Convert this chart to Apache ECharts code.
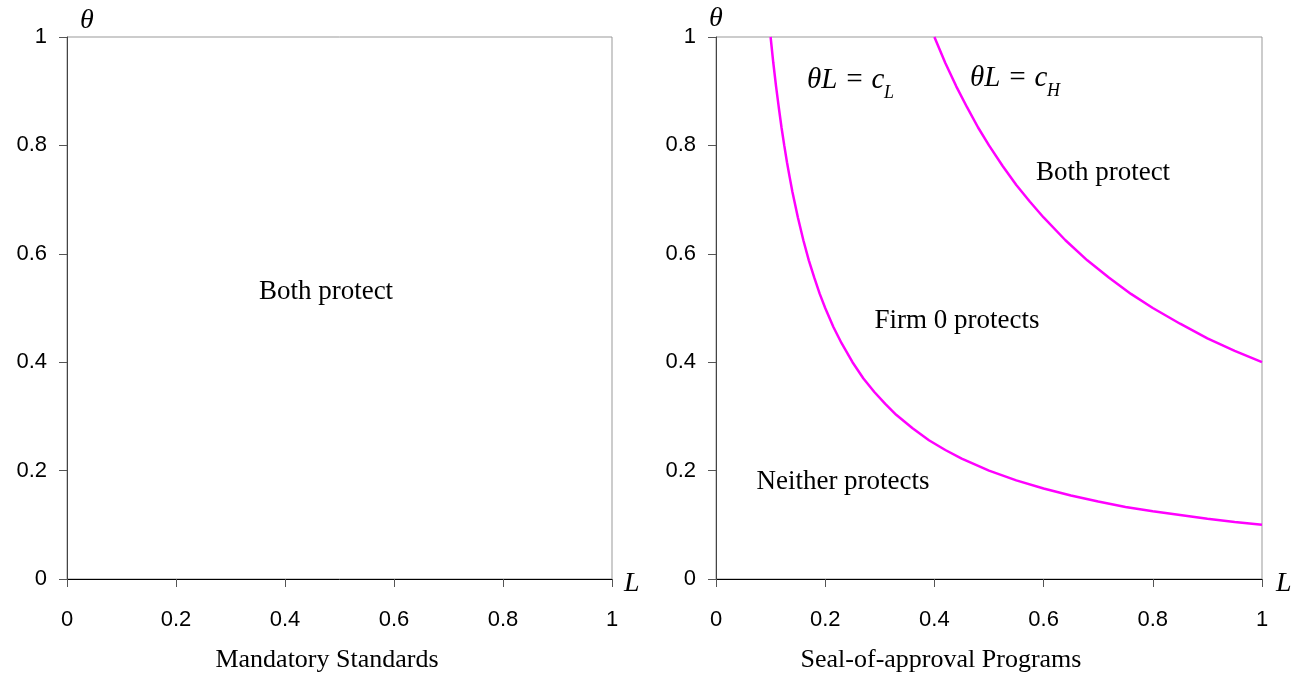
<!DOCTYPE html>
<html>
<head>
<meta charset="utf-8">
<script src="https://cdn.jsdelivr.net/npm/echarts@6/dist/echarts.min.js"></script>
<style>html,body{margin:0;padding:0;background:#fff}#c{width:1308px;height:676px}</style>
</head>
<body>
<div id="c"></div>
<script>
// Tick labels
var xTicks = [0, 0.2, 0.4, 0.6, 0.8, 1];
var yTicks = [0, 0.2, 0.4, 0.6, 0.8, 1];
// Curve theta*L = c_L
var curveLowL     = [0.100, 0.105, 0.110, 0.115, 0.120, 0.125, 0.130, 0.135, 0.140, 0.150, 0.160, 0.170, 0.180, 0.190, 0.200, 0.215, 0.230, 0.250, 0.270, 0.290, 0.310, 0.330, 0.360, 0.390, 0.420, 0.450, 0.500, 0.550, 0.600, 0.650, 0.700, 0.750, 0.800, 0.850, 0.900, 0.950, 1.000];
var curveLowTheta = [1.000, 0.952, 0.909, 0.870, 0.833, 0.800, 0.769, 0.741, 0.714, 0.667, 0.625, 0.588, 0.556, 0.526, 0.500, 0.465, 0.435, 0.400, 0.370, 0.345, 0.323, 0.303, 0.278, 0.256, 0.238, 0.222, 0.200, 0.182, 0.167, 0.154, 0.143, 0.133, 0.125, 0.118, 0.111, 0.105, 0.100];
// Curve theta*L = c_H
var curveHighL     = [0.400, 0.420, 0.440, 0.460, 0.480, 0.500, 0.525, 0.550, 0.575, 0.600, 0.640, 0.680, 0.720, 0.760, 0.800, 0.850, 0.900, 0.950, 1.000];
var curveHighTheta = [1.000, 0.952, 0.909, 0.870, 0.833, 0.800, 0.762, 0.727, 0.696, 0.667, 0.625, 0.588, 0.556, 0.526, 0.500, 0.471, 0.444, 0.421, 0.400];

function pairs(xs, ys){ return xs.map(function(x,i){return [x, ys[i]];}); }

var serif = '"Liberation Serif","Times New Roman",serif';
var sans = '"Liberation Sans",Arial,sans-serif';

function xAx(idx){
  return {
    type:'value', gridIndex:idx, min:0, max:1, interval:0.2,
    axisLine:{show:true, onZero:false, lineStyle:{color:'#000', width:1}},
    axisTick:{show:true, length:8, lineStyle:{color:'#555'}},
    axisLabel:{color:'#000', fontFamily:sans, fontSize:22, margin:30,
      formatter:function(v){return String(+v.toFixed(1));}},
    splitLine:{show:false}
  };
}
function yAx(idx){
  return {
    type:'value', gridIndex:idx, min:0, max:1, interval:0.2,
    axisLine:{show:true, onZero:false, lineStyle:{color:'#444', width:1}},
    axisTick:{show:true, length:8, lineStyle:{color:'#555'}},
    axisLabel:{color:'#000', fontFamily:sans, fontSize:22, margin:20,
      formatter:function(v){return String(+v.toFixed(1));}},
    splitLine:{show:false}
  };
}

function txt(x, y, s, opt){
  opt = opt || {};
  return {type:'text', x:x, y:y, style:{text:s, fill:'#000',
    font:(opt.italic?'italic ':'') + (opt.size||26) + 'px ' + serif,
    textAlign:opt.align||'left', textVerticalAlign:'middle'}};
}

var chart = echarts.init(document.getElementById('c'));
chart.setOption({
  animation:false,
  grid:[
    {left:67, top:37, width:545, height:542, show:true, borderColor:'#999', borderWidth:1},
    {left:716, top:37, width:546, height:542, show:true, borderColor:'#999', borderWidth:1}
  ],
  xAxis:[xAx(0), xAx(1)],
  yAxis:[yAx(0), yAx(1)],
  series:[
    {type:'line', xAxisIndex:1, yAxisIndex:1, data:pairs(curveLowL, curveLowTheta),
      smooth:false, showSymbol:false, lineStyle:{color:'#ff00ff', width:2.5}},
    {type:'line', xAxisIndex:1, yAxisIndex:1, data:pairs(curveHighL, curveHighTheta),
      smooth:false, showSymbol:false, lineStyle:{color:'#ff00ff', width:2.5}}
  ],
  graphic:[
    txt(80, 21, 'θ', {italic:true, size:28}),
    txt(624, 584, 'L', {italic:true, size:28}),
    txt(709, 19, 'θ', {italic:true, size:28}),
    txt(1276, 584, 'L', {italic:true, size:28}),
    txt(327, 660, 'Mandatory Standards', {align:'center'}),
    txt(941, 660, 'Seal-of-approval Programs', {align:'center'}),
    txt(326, 292, 'Both protect', {align:'center', size:27}),
    txt(1103, 173, 'Both protect', {align:'center', size:27}),
    txt(957, 321, 'Firm 0 protects', {align:'center', size:27}),
    txt(843, 482, 'Neither protects', {align:'center', size:27}),
    txt(807, 80, 'θL = c', {italic:true, size:29}),
    txt(884, 93, 'L', {italic:true, size:18}),
    txt(970, 78, 'θL = c', {italic:true, size:29}),
    txt(1047, 91, 'H', {italic:true, size:18})
  ]
});
</script>
</body>
</html>
